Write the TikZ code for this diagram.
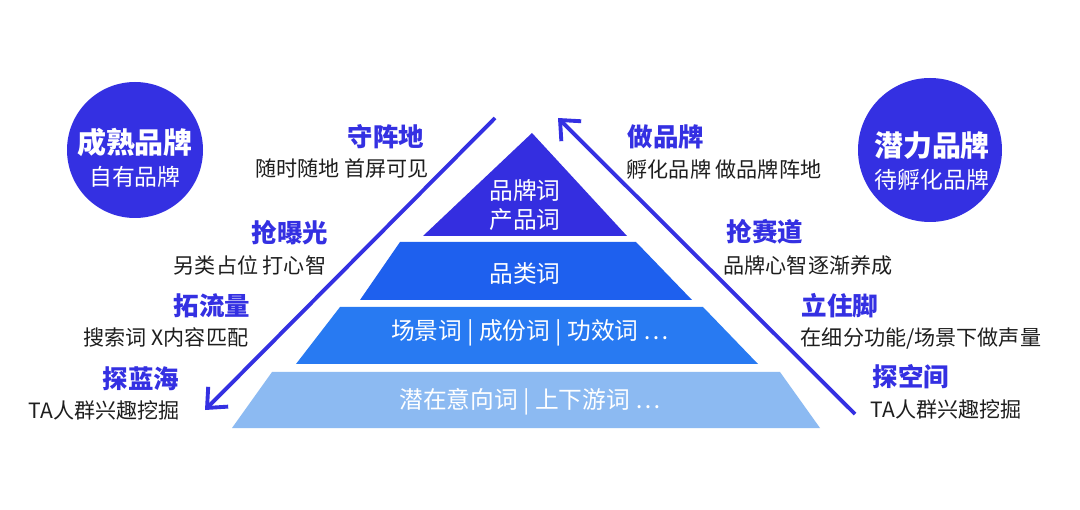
\documentclass[tikz,border=0pt]{standalone}
\usepackage{fontspec}
\setmainfont{Noto Sans CJK SC}
\newfontfamily\cjk{Noto Sans CJK SC}
\usetikzlibrary{arrows.meta}
\definecolor{brandblue}{RGB}{52,48,226}
\definecolor{tierone}{RGB}{52,46,224}
\definecolor{tiertwo}{RGB}{30,96,238}
\definecolor{tierthree}{RGB}{40,122,242}
\definecolor{tierfour}{RGB}{140,186,242}
\definecolor{ink}{RGB}{30,30,30}
\tikzset{
    head/.style = {text=brandblue, font=\cjk\bfseries\fontsize{14.5}{17}\selectfont, inner sep=0pt},
    note/.style = {text=ink, font=\cjk\fontsize{12}{14}\selectfont, inner sep=0pt},
    tiertext/.style = {text=white, font=\cjk\fontsize{13.5}{16}\selectfont, align=center, inner sep=0pt},
    guide/.style = {brandblue, line width=2.2pt, -{Straight Barb[length=9pt,width=16pt,line width=2.2pt]}},
}
\begin{document}
\begin{tikzpicture}[x={(0.02cm,0)}, y={(0,-0.02cm)}]
\useasboundingbox[fill=white] (0,0) rectangle (1080,510);

% pyramid tiers
\fill[tierone]   (532,133) -- (627,236) -- (423,236) -- cycle;
\fill[tiertwo]   (400,242) -- (636,242) -- (692,300) -- (360,300) -- cycle;
\fill[tierthree] (340,307) -- (703,307) -- (758,364) -- (296,364) -- cycle;
\fill[tierfour]  (272,372) -- (780,372) -- (820,428) -- (232,428) -- cycle;
\node[tiertext] (t1) at (525,205) {品牌词\\产品词};
\node[tiertext] (t2) at (525,273) {品类词};
\node[tiertext] (t3) at (530,333) {场景词 | 成份词 | 功效词 …};
\node[tiertext] (t4) at (530,402) {潜在意向词 | 上下游词 …};

% guide arrows
\coordinate (ltop) at (495,118);
\coordinate (lbot) at (205,410);
\coordinate (rbot) at (855,414);
\coordinate (rtop) at (558,118);
\draw[guide] (ltop) -- (lbot);
\draw[guide] (rbot) -- (rtop);

% circles
\fill[brandblue] (135,150) circle (68);
\fill[brandblue] (930,150) circle (72);
\node[text=white, font=\cjk\bfseries\fontsize{16.5}{19}\selectfont] (mature) at (135,142) {成熟品牌};
\node[text=white, font=\cjk\fontsize{13}{15}\selectfont] (own) at (135,177) {自有品牌};
\node[text=white, font=\cjk\bfseries\fontsize{16.5}{19}\selectfont] (potential) at (932,146) {潜力品牌};
\node[text=white, font=\cjk\fontsize{13}{15}\selectfont] (incubate) at (932,180) {待孵化品牌};

% left labels
\node[head] (h1) at (386,137) {守阵地};
\node[note] (n1) at (342,168) {随时随地 首屏可见};
\node[head] (h2) at (290,233) {抢曝光};
\node[note] (n2) at (250,265) {另类占位 打心智};
\node[head] (h3) at (212,306) {拓流量};
\node[note] (n3) at (166,337) {搜索词 X内容匹配};
\node[head] (h4) at (141,379) {探蓝海};
\node[note] (n4) at (104,410) {TA人群兴趣挖掘};

% right labels
\node[head] (h5) at (666,137) {做品牌};
\node[note] (n5) at (724,170) {孵化品牌 做品牌阵地};
\node[head] (h6) at (765,232) {抢赛道};
\node[note] (n6) at (808,265) {品牌心智逐渐养成};
\node[head] (h7) at (840,306) {立住脚};
\node[note] (n7) at (921,338) {在细分功能/场景下做声量};
\node[head] (h8) at (911,377) {探空间};
\node[note] (n8) at (946,409) {TA人群兴趣挖掘};
\end{tikzpicture}
\end{document}
